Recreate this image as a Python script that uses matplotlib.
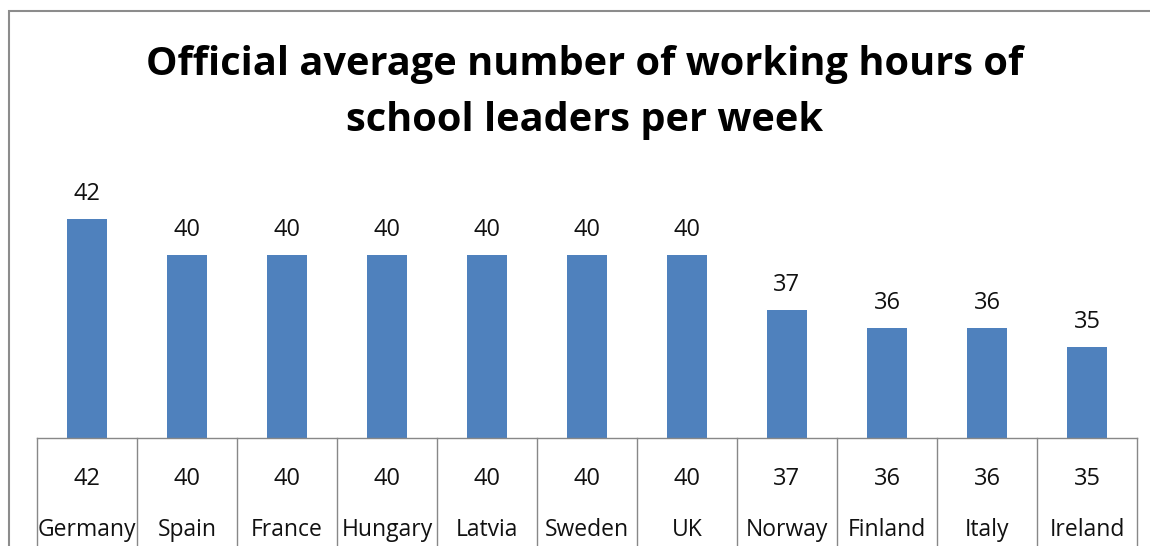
import matplotlib.pyplot as plt
from matplotlib.patches import Rectangle
from matplotlib.lines import Line2D

W, H = 1150, 546
countries = ['Germany', 'Spain', 'France', 'Hungary', 'Latvia', 'Sweden',
             'UK', 'Norway', 'Finland', 'Italy', 'Ireland']
hours = [42, 40, 40, 40, 40, 40, 40, 37, 36, 36, 35]

BAR_COLOR = '#4F81BD'
GRID_COLOR = '#888888'
TEXT_COLOR = '#111111'
FONT = 'Open Sans'

fig = plt.figure(figsize=(W / 100, H / 100), dpi=100)
fig.patch.set_facecolor('white')

# outer chart border (cut off on right and bottom)
fig.add_artist(Rectangle((9 / W, -0.1), 2, 1.1 - 11 / H, transform=fig.transFigure,
                         fill=False, edgecolor='#8c8c8c', linewidth=1.5))

left, right = 37 / W, 1137 / W
base, top = (H - 438) / H, (H - 164) / H
ax = fig.add_axes([left, base, right - left, top - base])

x = list(range(len(countries)))
ax.bar(x, hours, width=0.4, color=BAR_COLOR, zorder=2)
for xi, v in zip(x, hours):
    ax.text(xi, v + 1.04, str(v), ha='center', va='baseline',
            fontsize=17, family=FONT, color=TEXT_COLOR)

ax.set_xlim(-0.5, len(countries) - 0.5)
ax.set_ylim(30, 45)
ax.set_xticks([])
ax.set_yticks([])
for s in ['top', 'right', 'left']:
    ax.spines[s].set_visible(False)
ax.spines['bottom'].set_color(GRID_COLOR)
ax.spines['bottom'].set_linewidth(1)

# data table under the plot
trans = ax.get_xaxis_transform()
for i in range(len(countries) + 1):
    ax.add_line(Line2D([i - 0.5, i - 0.5], [0, -0.45], transform=trans,
                       color=GRID_COLOR, linewidth=1, clip_on=False))
for xi, v, c in zip(x, hours, countries):
    ax.text(xi, -0.149, str(v), transform=trans, ha='center', va='center',
            fontsize=17, family=FONT, color=TEXT_COLOR)
    ax.text(xi, -0.336, c, transform=trans, ha='center', va='center',
            fontsize=16.5, family=FONT, color=TEXT_COLOR)

fig.text(585 / W, 1 - 64 / H, 'Official average number of working hours of',
         ha='center', va='center', fontsize=28.6, fontweight='bold', family=FONT)
fig.text(585 / W, 1 - 121 / H, 'school leaders per week',
         ha='center', va='center', fontsize=28.6, fontweight='bold', family=FONT)

fig.savefig('out.png', dpi=100, facecolor='white')
